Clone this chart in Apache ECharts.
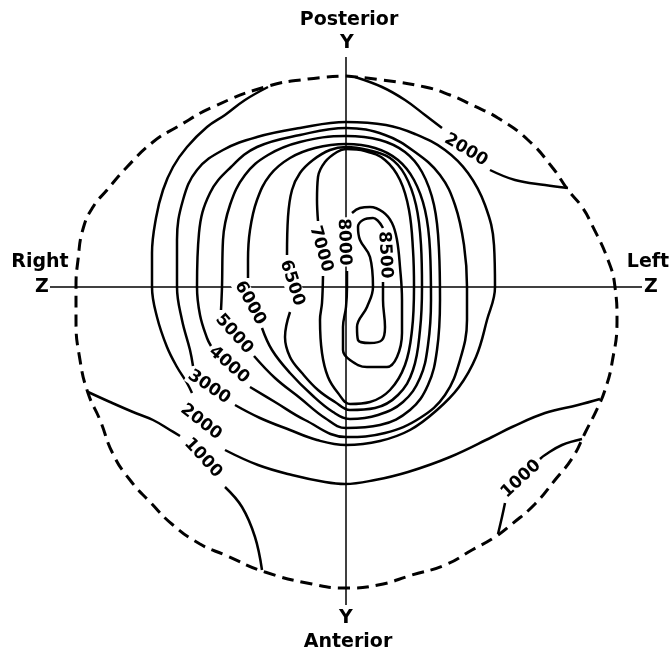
<!DOCTYPE html>
<html><head><meta charset="utf-8">
<script src="https://cdn.jsdelivr.net/npm/echarts@6/dist/echarts.min.js"></script>
<style>html,body{margin:0;padding:0;background:#fff}#c{width:670px;height:657px}</style>
</head><body><div id="c"></div>
<script>
// Coordinates: Z (horizontal, Right = negative) and Y (vertical, Posterior = positive)
const zAxisExtent = [[-296, 0], [296, 0]];
const yAxisExtent = [[0, 230], [0, -318]];

const boundary = [[0,211],[36,207],[79,200],[104,192],[126,182],[152,169],[182,147],[206,120],[222,97],[236,80],[246,62],[262,27],[269,0],[271,-33],[266,-76],[259,-103],[252,-120],[239,-146],[227,-170],[209,-193],[189,-217],[166,-237],[149,-250],[126,-263],[99,-278],[66,-288],[32,-298],[-1,-301],[-34,-297],[-81,-285],[-121,-268],[-146,-257],[-173,-238],[-196,-215],[-216,-193],[-233,-167],[-246,-133],[-258,-106],[-266,-73],[-270,-33],[-270,0],[-268,27],[-263,58],[-253,80],[-239,97],[-219,120],[-193,145],[-169,160],[-133,180],[-81,200],[-38,208],[0,211]];

const c2000Left = [[-78,200],[-101,187],[-121,172],[-139,160],[-159,140],[-173,120],[-183,97],[-190,69],[-194,34],[-194,0],[-189,-30],[-179,-60],[-169,-80],[-159,-96],[-154,-106]];
const c2000Bottom = [[-121,-163],[-88,-178],[-54,-188],[-21,-195],[-1,-197],[29,-193],[62,-185],[104,-170],[146,-150],[166,-140],[199,-126],[232,-118],[254,-112]];
const c2000TopA = [[9,210],[36,200],[59,187],[79,172],[96,159]];
const c2000TopB = [[144,117],[169,107],[199,102],[222,99]];
const c1000LeftA = [[-258,-105],[-236,-115],[-213,-125],[-193,-133],[-176,-143],[-166,-149]];
const c1000LeftB = [[-121,-200],[-104,-220],[-91,-250],[-84,-283]];
const c1000RightA = [[236,-152],[216,-158],[199,-168],[194,-172]];
const c1000RightB = [[159,-216],[156,-230],[152,-247]];
const c3000 = [[-111,-118],[-86,-131],[-56,-143],[-29,-153],[0,-158],[34,-154],[64,-143],[91,-123],[113,-100],[130,-70],[141,-33],[149,0],[148,42],[139,82],[122,114],[99,137],[69,153],[40,162],[0,165],[-46,159],[-89,150],[-123,137],[-149,117],[-163,87],[-169,47],[-169,0],[-164,-33],[-156,-63],[-153,-79]];
const c4000 = [[-96,-100],[-71,-115],[-41,-133],[0,-150],[39,-146],[74,-131],[99,-108],[114,-73],[121,-33],[121,0],[118,42],[109,82],[94,112],[69,135],[39,152],[0,159],[-46,152],[-89,140],[-115,120],[-136,94],[-147,54],[-149,0],[-146,-28],[-139,-51],[-135,-59]];
const c5000 = [[-92,-69],[-71,-91],[-46,-111],[-21,-131],[0,-141],[34,-138],[64,-123],[82,-98],[91,-63],[94,-13],[93,37],[88,82],[76,115],[59,135],[34,147],[0,151],[-46,145],[-78,132],[-101,112],[-116,82],[-123,47],[-124,0],[-125,-23]];
const c6000 = [[-84,-41],[-74,-63],[-56,-86],[-34,-108],[-13,-125],[4,-132],[32,-128],[57,-115],[74,-91],[82,-58],[85,-13],[84,37],[79,77],[68,107],[52,127],[29,139],[0,143],[-31,139],[-56,129],[-76,112],[-89,87],[-96,57],[-98,27],[-98,9]];
const c6500 = [[-56,-25],[-61,-50],[-56,-70],[-44,-86],[-28,-103],[-11,-115],[4,-123],[29,-121],[52,-108],[67,-83],[74,-43],[76,0],[75,42],[70,82],[59,112],[44,129],[22,137],[0,140],[-16,137],[-33,127],[-46,114],[-54,97],[-58,70],[-59,32]];
const c7000 = [[-23,11],[-24,-16],[-26,-33],[-24,-66],[-18,-90],[-8,-106],[4,-117],[24,-115],[44,-103],[59,-78],[66,-43],[68,0],[67,37],[63,77],[54,107],[39,127],[19,136],[0,138],[-9,135],[-21,125],[-28,110],[-29,87],[-28,66]];
const c8000 = [[1,16],[1,0],[0,-20],[-3,-40],[-3,-63],[4,-73],[21,-80],[41,-80],[51,-70],[56,-46],[56,-13],[54,20],[51,47],[46,64],[37,75],[24,80],[14,79],[6,74]];
const c8500 = [[37,59],[27,69],[17,67],[12,60],[14,47],[24,30],[27,0],[21,-20],[11,-40],[12,-53],[24,-56],[36,-53],[39,-40],[37,-13],[37,5]];

const labelValues = [2000, 2000, 1000, 1000, 3000, 4000, 5000, 6000, 6500, 7000, 8000, 8500];
const labelPoints = [[120,137],[-145,-135],[-143,-171],[175,-192],[-137,-100],[-117,-78],[-112,-47],[-96,-16],[-54,4],[-25,38],[-2,45],[39,32]];
const labelAngles = [-31, -38, -47, 43, -34, -41, -48, -61, -72, -74, -88, -87];

const contours = [c2000Left, c2000Bottom, c2000TopA, c2000TopB, c1000LeftA, c1000LeftB, c1000RightA, c1000RightB, c3000, c4000, c5000, c6000, c6500, c7000, c8000, c8500];

const series = [];
series.push({type:'line', data:zAxisExtent, symbol:'none', lineStyle:{color:'#000', width:1.5}, z:1, silent:true});
series.push({type:'line', data:yAxisExtent, symbol:'none', lineStyle:{color:'#000', width:1.5}, z:1, silent:true});
series.push({type:'line', data:boundary, symbol:'none', smooth:0.5, lineStyle:{color:'#000', width:3, type:[12,7]}, z:2, silent:true});
contours.forEach(function(d){
  series.push({type:'line', data:d, symbol:'none', smooth:0.4, lineStyle:{color:'#000', width:2.5}, z:3, silent:true});
});

const font = 'bold 19px "DejaVu Sans"';
function txt(t, x, y){ return {type:'text', x:x, y:y, z:10, style:{text:t, align:'center', verticalAlign:'middle', font:font, fill:'#000'}}; }
const titles = [
  txt('Posterior', 349, 20), txt('Y', 347, 43),
  txt('Right', 40, 262), txt('Z', 42, 287),
  txt('Left', 648, 262), txt('Z', 651, 287),
  txt('Y', 346, 618), txt('Anterior', 348, 642)
];

const chart = echarts.init(document.getElementById('c'));
const baseOption = {
  animation:false,
  backgroundColor:'#fff',
  grid:{left:0, right:0, top:0, bottom:0},
  xAxis:{type:'value', min:-346, max:324, show:false},
  yAxis:{type:'value', min:-370, max:287, show:false},
  series:series,
  graphic:titles
};
chart.setOption(baseOption);

// contour value labels, placed through the chart's own scales
const labelEls = labelPoints.map(function(p, i){
  const px = chart.convertToPixel({gridIndex:0}, p);
  return {type:'text', x:px[0], y:px[1], rotation:labelAngles[i]*Math.PI/180, z:20,
    style:{text:String(labelValues[i]), align:'center', verticalAlign:'middle',
      font:'bold 17px "DejaVu Sans"', fill:'#000', backgroundColor:'#fff', padding:[0,1]}};
});
chart.setOption({graphic:titles.concat(labelEls)}, {replaceMerge:['graphic']});
</script>
</body></html>
